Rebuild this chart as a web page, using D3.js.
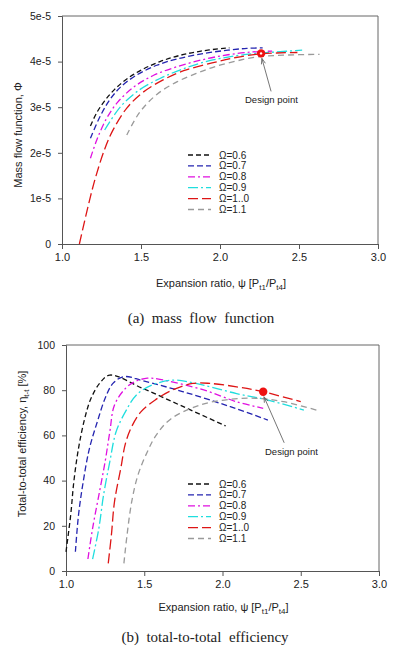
<!DOCTYPE html>
<html><head><meta charset="utf-8">
<script src="https://cdn.jsdelivr.net/npm/d3@7"></script>
<style>
html,body{margin:0;padding:0;background:#fff;}
svg{display:block;}
text{font-family:"Liberation Sans",Arial,sans-serif;fill:#222;}
</style></head>
<body>
<svg id="c" width="397" height="650"></svg>
<script>
// ---------- DATA ----------
const seriesLabels = ["Ω=0.6","Ω=0.7","Ω=0.8","Ω=0.9","Ω=1..0","Ω=1.1"];
const xTicks = [1.0,1.5,2.0,2.5,3.0];
const mffTicks = [0,1,2,3,4,5];
const mffTickLabels = ["0","1e-5","2e-5","3e-5","4e-5","5e-5"];
const effTicks = [0,20,40,60,80,100];

// mass flow function (units of 1e-5) vs expansion ratio
const mff06 = [[1.18,2.59],[1.22,2.88],[1.27,3.14],[1.33,3.38],[1.41,3.62],[1.51,3.83],[1.62,4.0],[1.75,4.14],[1.88,4.23],[2.02,4.29],[2.06,4.30]];
const mff07 = [[1.18,2.32],[1.24,2.79],[1.30,3.15],[1.37,3.44],[1.47,3.70],[1.60,3.92],[1.73,4.06],[1.90,4.18],[2.05,4.25],[2.17,4.29],[2.27,4.30]];
const mff08 = [[1.18,1.88],[1.22,2.28],[1.28,2.74],[1.35,3.10],[1.45,3.43],[1.58,3.70],[1.73,3.89],[1.90,4.05],[2.05,4.15],[2.20,4.21],[2.33,4.23]];
const mff09 = [[1.27,2.5],[1.37,3.01],[1.49,3.38],[1.62,3.63],[1.75,3.82],[1.90,3.99],[2.05,4.10],[2.20,4.17],[2.35,4.21],[2.52,4.25]];
const mff10 = [[1.11,0],[1.18,1.04],[1.22,1.55],[1.27,2.08],[1.32,2.48],[1.41,2.98],[1.51,3.32],[1.64,3.6],[1.77,3.8],[1.95,3.97],[2.10,4.09],[2.26,4.17],[2.49,4.2]];
const mff11 = [[1.41,2.39],[1.49,2.88],[1.60,3.28],[1.73,3.56],[1.85,3.74],[1.96,3.88],[2.10,4.01],[2.23,4.10],[2.40,4.14],[2.63,4.16]];

// total-to-total efficiency [%] vs expansion ratio
const eff06 = [[1.0,8.5],[1.03,24.8],[1.05,39.5],[1.08,54.3],[1.12,67.6],[1.16,76.4],[1.22,83.5],[1.28,86.7],[1.49,80.8],[1.75,72.7],[2.02,64.2]];
const eff07 = [[1.06,8.5],[1.08,24.8],[1.11,39.5],[1.15,54.3],[1.20,66],[1.25,76.4],[1.30,83],[1.37,86],[1.49,84.2],[1.75,79.3],[2.05,72.7],[2.29,66.8]];
const eff08 = [[1.14,5.3],[1.17,18.9],[1.21,33.6],[1.25,48.4],[1.28,61.6],[1.31,73.5],[1.38,80.8],[1.44,83.8],[1.52,85.3],[1.60,84.8],[1.88,80.1],[2.09,74.9],[2.26,72]];
const eff09 = [[1.17,5.3],[1.21,18.9],[1.24,33.6],[1.28,48.4],[1.32,61.6],[1.38,70.5],[1.45,77.9],[1.55,82.3],[1.69,84.5],[1.81,83.3],[2.09,78.5],[2.28,75.8],[2.52,71.2]];
const eff10 = [[1.27,3.4],[1.29,15.9],[1.31,30.7],[1.35,45.4],[1.38,56.5],[1.42,63.9],[1.48,70.5],[1.57,75.7],[1.68,80.1],[1.81,83],[1.92,83],[2.09,81.5],[2.26,79.3],[2.50,74.9]];
const eff11 = [[1.37,3.4],[1.39,15.9],[1.42,30.7],[1.46,42.5],[1.52,52.8],[1.58,60.5],[1.67,67.3],[1.86,73.5],[2.05,76],[2.22,76.4],[2.39,74.9],[2.60,71.2]];

const mffDesign = [2.26,4.18];
const effDesign = [2.26,79.3];

// ---------- STYLES ----------
const colors = ["#111111","#2424b0","#e010e0","#20dede","#dd1515","#9a9a9a"];
const dashes = ["5,3","6,3","7,3,2,3","10,3,2,3","10,4","6,4"];

const svg = d3.select("#c");

function panel(cfg){
  const x = d3.scaleLinear().domain([1,3]).range([cfg.l,cfg.r]);
  const y = d3.scaleLinear().domain(cfg.ydom).range([cfg.b,cfg.t]);
  const g = svg.append("g");
  g.append("path").attr("d",`M${cfg.l},${cfg.t}H${cfg.r}V${cfg.b}`)
    .attr("fill","none").attr("stroke","#666").attr("stroke-width",1);
  const xa = g.append("g").attr("transform",`translate(0,${cfg.b})`)
    .call(d3.axisBottom(x).tickValues(xTicks).tickFormat(d3.format(".1f")).tickSize(5).tickPadding(4));
  const ya = g.append("g").attr("transform",`translate(${cfg.l},0)`)
    .call(d3.axisLeft(y).tickValues(cfg.yticks).tickFormat((d,i)=>cfg.ylabels[i]).tickSize(4).tickPadding(7));
  [xa,ya].forEach(a=>{
    a.select(".domain").attr("stroke","#555");
    a.selectAll(".tick line").attr("stroke","#555");
    a.selectAll("text").attr("fill","#222").style("font-family","'Liberation Sans',Arial,sans-serif");
  });
  xa.selectAll("text").style("font-size","11px");
  ya.selectAll("text").style("font-size","10.5px");

  const line = d3.line().x(d=>x(d[0])).y(d=>y(d[1])).curve(d3.curveCatmullRom.alpha(0.5));
  cfg.series.forEach((s,i)=>{
    g.append("path").attr("d",line(s)).attr("fill","none")
      .attr("stroke",colors[i]).attr("stroke-width",1.3).attr("stroke-dasharray",dashes[i]);
  });
  seriesLabels.forEach((lab,i)=>{
    const yy = cfg.legY + i*10.9;
    g.append("line").attr("x1",cfg.legX).attr("x2",cfg.legX+23).attr("y1",yy).attr("y2",yy)
      .attr("stroke",colors[i]).attr("stroke-width",1.3).attr("stroke-dasharray",dashes[i]);
    g.append("text").attr("x",cfg.legX+31).attr("y",yy).attr("dy","0.35em")
      .style("font-size","10px").text(lab);
  });
  const dx = x(cfg.design[0]), dy = y(cfg.design[1]);
  const ax2 = dx + cfg.arrow[0], ay2 = dy + cfg.arrow[1];
  g.append("line").attr("x1",ax2).attr("y1",ay2).attr("x2",dx+0.8).attr("y2",dy+5)
    .attr("stroke","#666").attr("stroke-width",0.9);
  const ang = Math.atan2((dy+5)-ay2,(dx+0.8)-ax2);
  const hx = dx+0.8, hy = dy+5;
  const al = 6, aw = 0.35;
  g.append("path").attr("d",`M${hx-al*Math.cos(ang-aw)},${hy-al*Math.sin(ang-aw)}L${hx},${hy}L${hx-al*Math.cos(ang+aw)},${hy-al*Math.sin(ang+aw)}`)
    .attr("fill","none").attr("stroke","#666").attr("stroke-width",0.9);
  g.append("circle").attr("cx",dx).attr("cy",dy).attr("r",4.2).attr("fill","#ee1111");
  if(cfg.hole) g.append("circle").attr("cx",dx).attr("cy",dy).attr("r",1.2).attr("fill","#fff");
  g.append("text").attr("x",cfg.dpLabel[0]).attr("y",cfg.dpLabel[1]).attr("dy","0.35em")
    .style("font-size","9.5px").text("Design point");

  const xt = g.append("text").attr("x",(cfg.l+cfg.r)/2+1).attr("y",cfg.xTitleY).attr("dy","0.35em")
    .attr("text-anchor","middle").style("font-size","11px");
  xt.append("tspan").text("Expansion ratio,  ψ [P");
  xt.append("tspan").attr("dy","3").style("font-size","8px").text("t1");
  xt.append("tspan").attr("dy","-3").text("/P");
  xt.append("tspan").attr("dy","3").style("font-size","8px").text("t4");
  xt.append("tspan").attr("dy","-3").text("]");
  const yt = g.append("text").attr("transform",`translate(${cfg.yTitleX},${cfg.yTitleY}) rotate(-90)`)
    .attr("text-anchor","middle").attr("dy","0.35em").style("font-size","11px");
  cfg.yTitle(yt);
  svg.append("text").attr("x",cfg.capX).attr("y",cfg.capY).attr("dy","0.35em")
    .attr("text-anchor","middle").style("font-family","'Liberation Serif','Times New Roman',serif")
    .style("font-size","15px").style("white-space","pre").attr("xml:space","preserve").text(cfg.caption);
}

panel({l:62,r:378,t:16,b:244,ydom:[0,5],yticks:mffTicks,ylabels:mffTickLabels,
  series:[mff06,mff07,mff08,mff09,mff10,mff11],legX:188,legY:155,
  design:mffDesign,arrow:[10,38],hole:true,dpLabel:[245,100],
  xTitleY:283,yTitleX:18,yTitleY:135,
  yTitle:t=>t.text("Mass flow function, Φ"),
  capX:201,capY:318,caption:"(a)  mass  flow  function"});

panel({l:66,r:379,t:345,b:571,ydom:[0,100],yticks:effTicks,ylabels:effTicks.map(String),
  series:[eff06,eff07,eff08,eff09,eff10,eff11],legX:188,legY:484,
  design:effDesign,arrow:[21,51],hole:false,dpLabel:[265,452],
  xTitleY:607,yTitleX:22,yTitleY:444,
  yTitle:t=>{t.append("tspan").text("Total-to-total efficiency, η");
    t.append("tspan").attr("dy","3").style("font-size","8px").text("t-t");
    t.append("tspan").attr("dy","-3").text(" [%]");},
  capX:205,capY:637,caption:"(b)  total-to-total  efficiency"});
</script>
</body></html>
